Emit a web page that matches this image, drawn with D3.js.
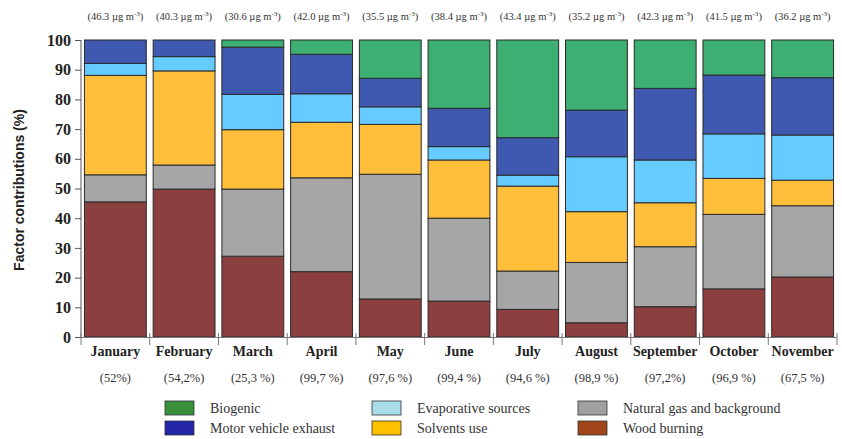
<!DOCTYPE html>
<html><head><meta charset="utf-8">
<script src="https://cdn.jsdelivr.net/npm/d3@7"></script>
<style>body{margin:0;background:#fff}</style>
</head><body><svg id="c" width="842" height="439"></svg>
<script>
const months = ["January","February","March","April","May","June","July","August","September","October","November"];
const totals = ["46.3","40.3","30.6","42.0","35.5","38.4","43.4","35.2","42.3","41.5","36.2"];
const explained = ["(52%)","(54,2%)","(25,3 %)","(99,7 %)","(97,6 %)","(99,4 %)","(94,6 %)","(98,9 %)","(97,2%)","(96,9 %)","(67,5 %)"];
const sources = ["Wood burning","Natural gas and background","Solvents use","Evaporative sources","Motor vehicle exhaust","Biogenic"];
const woodBurning = [45.5,49.8,27.2,22.0,12.8,12.1,9.3,4.8,10.2,16.2,20.2];
const naturalGas  = [9.1,8.1,22.6,31.6,42.0,27.9,12.9,20.3,20.2,25.1,24.0];
const solvents    = [33.5,31.7,20.0,18.7,16.8,19.6,28.6,17.1,14.8,12.1,8.6];
const evaporative = [4.0,4.8,11.9,9.6,5.9,4.5,3.7,18.5,14.4,15.0,15.2];
const motorVehicle= [7.9,5.6,15.9,13.3,9.6,12.9,12.6,15.7,24.1,19.8,19.3];
const biogenic    = [0,0,2.4,4.8,12.9,23.0,32.9,23.6,16.3,11.8,12.7];
const yTicks = [0,10,20,30,40,50,60,70,80,90,100];

const barColors = {"Wood burning":"#8c3f3f","Natural gas and background":"#a6a6a6","Solvents use":"#ffbf3a",
  "Evaporative sources":"#66ccff","Motor vehicle exhaust":"#3f58b0","Biogenic":"#3daf72"};
const legendColors = {"Wood burning":"#a0461a","Natural gas and background":"#a0a0a0","Solvents use":"#ffc000",
  "Evaporative sources":"#a8dce8","Motor vehicle exhaust":"#2424a8","Biogenic":"#3a8f3a"};

const seriesVals = [woodBurning,naturalGas,solvents,evaporative,motorVehicle,biogenic];
const table = months.map((m,i)=>{const o={month:m}; sources.forEach((s,j)=>o[s]=seriesVals[j][i]); return o;});

const svg = d3.select("#c");
const x = d3.scaleBand().domain(months).range([81,837]).paddingInner(0.1).paddingOuter(0.05);
const y = d3.scaleLinear().domain([0,100]).range([337,40]);

const stack = d3.stack().keys(sources)(table);
svg.append("g").selectAll("g").data(stack).join("g")
  .attr("fill",d=>barColors[d.key])
  .selectAll("rect").data(d=>d.filter(p=>p[1]-p[0]>0)).join("rect")
  .attr("x",d=>x(d.data.month)).attr("width",x.bandwidth())
  .attr("y",d=>y(d[1])).attr("height",d=>y(d[0])-y(d[1]))
  .attr("stroke","#2a2a2a").attr("stroke-width",1);

// y axis
const ya = svg.append("g").attr("transform","translate(81,0)")
  .call(d3.axisLeft(y).tickValues(yTicks).tickSize(6).tickPadding(4));
ya.select(".domain").attr("stroke","#555").attr("d","M0,40V337");
ya.selectAll(".tick line").attr("stroke","#555");
ya.selectAll("text").attr("font-family","Liberation Serif").attr("font-weight","bold").attr("font-size","16px").attr("fill","#222");

// x axis line and boundary ticks
const xa = svg.append("g");
xa.append("line").attr("x1",81).attr("x2",837).attr("y1",337.5).attr("y2",337.5).attr("stroke","#777");
const bounds = months.map(m=>x(m)-x.step()*x.paddingInner()/2).concat([837]);
xa.selectAll("line.t").data(bounds).join("line").attr("class","t")
  .attr("x1",d=>d).attr("x2",d=>d).attr("y1",333).attr("y2",345).attr("stroke","#777");

svg.append("g").selectAll("text").data(months).join("text")
  .attr("x",d=>x(d)+x.bandwidth()/2).attr("y",356).attr("text-anchor","middle")
  .attr("font-family","Liberation Serif").attr("font-weight","bold").attr("font-size","14px").attr("fill","#222")
  .text(d=>d);
svg.append("g").selectAll("text").data(explained).join("text")
  .attr("x",(d,i)=>x(months[i])+x.bandwidth()/2).attr("y",382).attr("text-anchor","middle")
  .attr("font-family","Liberation Serif").attr("font-size","12.5px").attr("fill","#333")
  .text(d=>d);

// top totals
const tt = svg.append("g").selectAll("text").data(totals).join("text")
  .attr("x",(d,i)=>x(months[i])+x.bandwidth()/2).attr("y",20).attr("text-anchor","middle")
  .attr("font-family","Liberation Serif").attr("font-size","10.5px").attr("fill","#333");
tt.append("tspan").text(d=>"("+d+" µg m");
tt.append("tspan").attr("dy",-4).attr("font-size","7px").text("-3");
tt.append("tspan").attr("dy",4).text(")");

// y label
svg.append("text").attr("transform","translate(24,190) rotate(-90)").attr("text-anchor","middle")
  .attr("font-family","Liberation Sans").attr("font-weight","bold").attr("font-size","14px").attr("fill","#222")
  .text("Factor contributions (%)");

// legend
const legendItems = [
  {k:"Biogenic",c:0,r:0},{k:"Motor vehicle exhaust",c:0,r:1},
  {k:"Evaporative sources",c:1,r:0},{k:"Solvents use",c:1,r:1},
  {k:"Natural gas and background",c:2,r:0},{k:"Wood burning",c:2,r:1}];
const colX=[165,372,578];
const lg = svg.append("g").selectAll("g").data(legendItems).join("g")
  .attr("transform",d=>`translate(${colX[d.c]},${401+d.r*20})`);
lg.append("rect").attr("width",29).attr("height",14).attr("fill",d=>legendColors[d.k]).attr("stroke","#333").attr("stroke-width",0.8);
lg.append("text").attr("x",45).attr("y",12).attr("font-family","Liberation Serif").attr("font-size","14px").attr("fill","#333").text(d=>d.k);
</script></body></html>
